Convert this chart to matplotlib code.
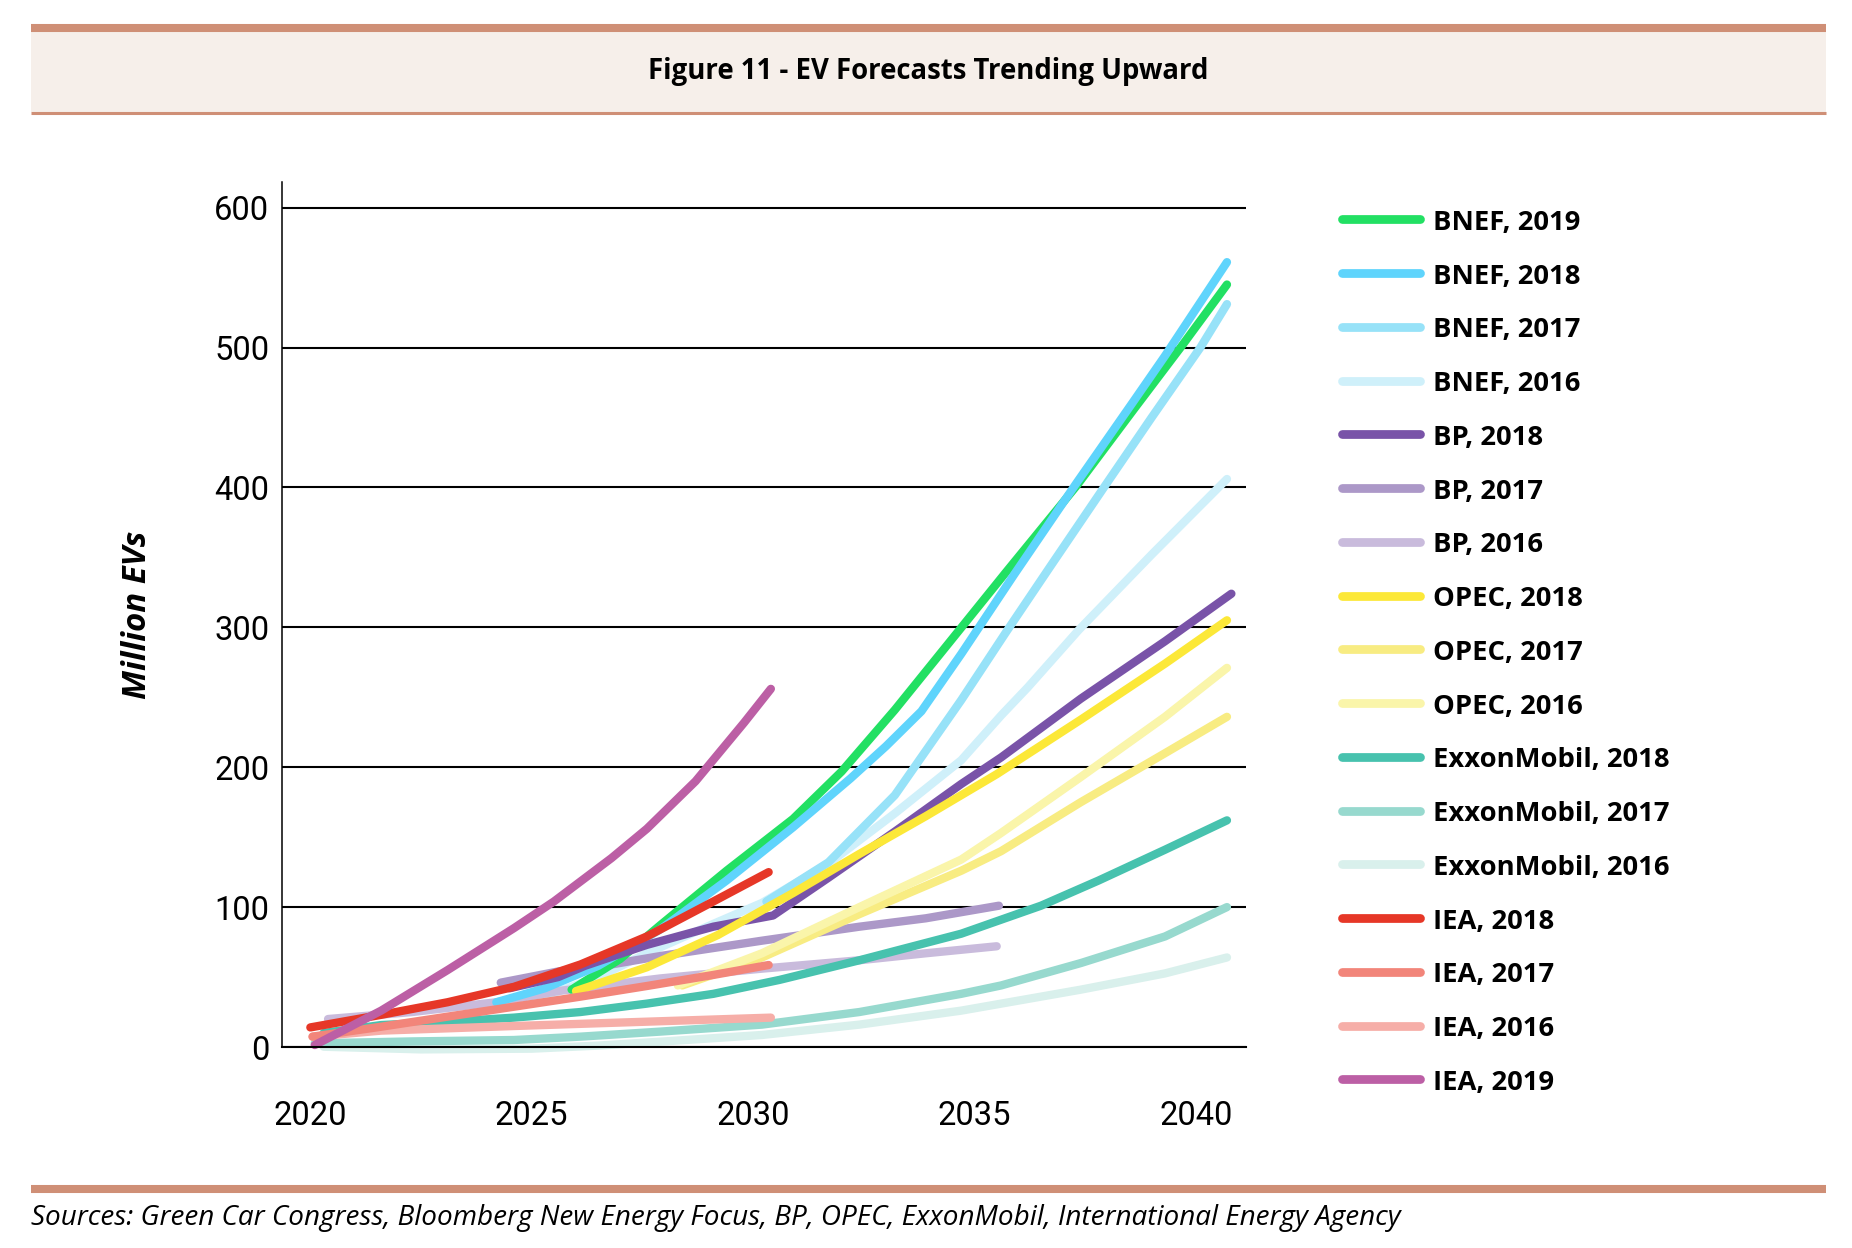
import matplotlib
matplotlib.use("Agg")
import matplotlib.pyplot as plt
from matplotlib.lines import Line2D
from matplotlib.patches import Rectangle

# -----------------------------
# Forecast data (million EVs)
# -----------------------------
bnef_2019_x = [2025.9, 2027.0, 2027.9, 2029.4, 2030.9, 2032.0, 2033.2, 2034.4, 2035.7, 2037.3, 2038.6, 2039.7, 2040.7]
bnef_2019_y = [41, 63, 87, 126, 163, 197, 241, 288, 339, 401, 456, 502, 545]

bnef_2018_x = [2024.2, 2025.3, 2026.5, 2027.9, 2029.4, 2030.9, 2032.2, 2033.0, 2033.8, 2034.7, 2035.9, 2037.3, 2038.6, 2039.3, 2040.7]
bnef_2018_y = [32, 42, 58, 84, 119, 157, 192, 215, 240, 281, 338, 403, 462, 494, 561]

bnef_2017_x = [2030.3, 2031.7, 2033.2, 2034.7, 2035.7, 2036.7, 2037.9, 2039.0, 2040.1, 2040.7]
bnef_2017_y = [104, 132, 180, 248, 296, 343, 399, 450, 500, 531]

bnef_2016_x = [2025.0, 2026.5, 2027.6, 2029.1, 2030.2, 2031.7, 2033.2, 2034.7, 2035.6, 2036.2, 2037.35, 2039.0, 2040.7]
bnef_2016_y = [33, 50, 67, 88, 103, 131, 167, 205, 237, 257, 298, 352, 406]

bp_2018_x = [2024.5, 2025.6, 2026.2, 2027.6, 2029.1, 2030.45, 2031.7, 2033.2, 2034.7, 2035.6, 2037.4, 2039.3, 2040.8]
bp_2018_y = [42, 50, 58, 73, 86, 94, 121, 154, 188, 207, 249, 290, 324]

bp_2017_x = [2024.3, 2025.6, 2026.8, 2027.9, 2030.2, 2032.4, 2033.9, 2035.55]
bp_2017_y = [46, 54, 59, 65, 76, 86, 92, 101]

bp_2016_x = [2020.4, 2022.3, 2024.2, 2025.6, 2027.9, 2030.2, 2032.4, 2033.9, 2035.5]
bp_2016_y = [20, 25, 32, 40, 49, 56, 62, 67, 72]

opec_2018_x = [2026.0, 2027.6, 2029.2, 2030.9, 2032.4, 2033.9, 2035.5, 2037.4, 2039.3, 2040.7]
opec_2018_y = [40, 57, 80, 110, 138, 165, 195, 234, 274, 305]

opec_2017_x = [2028.4, 2030.2, 2032.4, 2034.7, 2035.6, 2037.4, 2039.3, 2040.7]
opec_2017_y = [44, 64, 95, 126, 140, 175, 210, 236]

opec_2016_x = [2028.3, 2030.2, 2032.4, 2034.7, 2035.6, 2037.4, 2039.3, 2040.7]
opec_2016_y = [44, 67, 100, 134, 153, 193, 236, 271]

exxon_2018_x = [2020.3, 2021.6, 2023.1, 2024.6, 2026.1, 2027.6, 2029.1, 2030.6, 2032.4, 2034.7, 2035.6, 2036.5, 2037.8, 2039.3, 2040.7]
exxon_2018_y = [10, 15.7, 18, 21, 25, 31, 38, 48, 62, 81, 91, 101, 119, 141, 162]

exxon_2017_x = [2020.1, 2022.3, 2024.6, 2026.1, 2027.9, 2030.2, 2032.4, 2034.7, 2035.6, 2037.4, 2039.3, 2040.7]
exxon_2017_y = [2.6, 4, 5, 7.4, 11, 16, 25, 38, 44, 60, 79, 100]

exxon_2016_x = [2020.3, 2022.5, 2025.0, 2026.5, 2027.9, 2030.2, 2032.4, 2034.7, 2035.6, 2037.4, 2039.3, 2040.7]
exxon_2016_y = [0.2, -1.7, -1.2, 1.0, 3.8, 8.6, 16, 26, 31, 41, 52.6, 64]

iea_2018_x = [2020.0, 2021.6, 2023.1, 2024.6, 2026.1, 2027.6, 2029.1, 2030.35]
iea_2018_y = [14, 23, 32, 43, 59, 79, 104, 125]

iea_2017_x = [2020.05, 2021.6, 2023.1, 2024.6, 2026.1, 2027.6, 2029.1, 2030.35]
iea_2017_y = [7.4, 14.5, 21.7, 28.8, 36, 43.6, 51.5, 58.6]

iea_2016_x = [2020.05, 2021.6, 2024.6, 2027.6, 2030.4]
iea_2016_y = [7.4, 11.7, 15, 18.1, 21]

iea_2019_x = [2020.1, 2021.6, 2023.1, 2024.6, 2025.5, 2026.8, 2027.6, 2028.7, 2029.8, 2030.4]
iea_2019_y = [1.4, 26, 55, 85, 104, 135, 156, 190, 232, 256]

x_ticks = [2020, 2025, 2030, 2035, 2040]
y_ticks = [0, 100, 200, 300, 400, 500, 600]

# legend order (as shown on the right of the chart)
legend_names = ["BNEF, 2019", "BNEF, 2018", "BNEF, 2017", "BNEF, 2016",
                "BP, 2018", "BP, 2017", "BP, 2016",
                "OPEC, 2018", "OPEC, 2017", "OPEC, 2016",
                "ExxonMobil, 2018", "ExxonMobil, 2017", "ExxonMobil, 2016",
                "IEA, 2018", "IEA, 2017", "IEA, 2016", "IEA, 2019"]
legend_colors = ["#22E063", "#5FD4FC", "#97E2F8", "#CFF0FA",
                 "#7953A8", "#AC98C8", "#C9BBDC",
                 "#FCE838", "#F8EC82", "#FAF5AA",
                 "#47C2AE", "#97D9CE", "#D9F0EC",
                 "#E63727", "#F2857A", "#F6AEA8", "#BC5FA5"]

series = {
    "BNEF, 2019": (bnef_2019_x, bnef_2019_y),
    "BNEF, 2018": (bnef_2018_x, bnef_2018_y),
    "BNEF, 2017": (bnef_2017_x, bnef_2017_y),
    "BNEF, 2016": (bnef_2016_x, bnef_2016_y),
    "BP, 2018": (bp_2018_x, bp_2018_y),
    "BP, 2017": (bp_2017_x, bp_2017_y),
    "BP, 2016": (bp_2016_x, bp_2016_y),
    "OPEC, 2018": (opec_2018_x, opec_2018_y),
    "OPEC, 2017": (opec_2017_x, opec_2017_y),
    "OPEC, 2016": (opec_2016_x, opec_2016_y),
    "ExxonMobil, 2018": (exxon_2018_x, exxon_2018_y),
    "ExxonMobil, 2017": (exxon_2017_x, exxon_2017_y),
    "ExxonMobil, 2016": (exxon_2016_x, exxon_2016_y),
    "IEA, 2018": (iea_2018_x, iea_2018_y),
    "IEA, 2017": (iea_2017_x, iea_2017_y),
    "IEA, 2016": (iea_2016_x, iea_2016_y),
    "IEA, 2019": (iea_2019_x, iea_2019_y),
}
colors = dict(zip(legend_names, legend_colors))

# stacking order of the lines (bottom first)
draw_order = ["ExxonMobil, 2016", "ExxonMobil, 2017", "BNEF, 2016", "BP, 2016", "BP, 2017",
              "OPEC, 2017", "OPEC, 2016", "BNEF, 2019", "BNEF, 2018", "BNEF, 2017",
              "BP, 2018", "OPEC, 2018", "ExxonMobil, 2018", "IEA, 2016", "IEA, 2017",
              "IEA, 2018", "IEA, 2019"]

W, H = 1852, 1248
BAR = "#CF8F76"
BOLD = ["Open Sans", "DejaVu Sans"]
TICKF = ["Roboto", "DejaVu Sans"]

fig = plt.figure(figsize=(W / 100, H / 100), dpi=100)

# -----------------------------
# Header band + rules
# -----------------------------
fig.add_artist(Rectangle((31 / W, 1 - 112 / H), (1826 - 31) / W, (112 - 30) / H,
                         transform=fig.transFigure, facecolor="#F6EFEA", edgecolor="none"))
fig.add_artist(Line2D([31 / W, 1826 / W], [1 - 28 / H, 1 - 28 / H], transform=fig.transFigure,
                      color=BAR, lw=5.8, solid_capstyle="butt"))
fig.add_artist(Line2D([31 / W, 1826 / W], [1 - 112.5 / H, 1 - 112.5 / H], transform=fig.transFigure,
                      color=BAR, lw=2.2, solid_capstyle="butt"))
fig.add_artist(Line2D([31 / W, 1826 / W], [1 - 1189 / H, 1 - 1189 / H], transform=fig.transFigure,
                      color=BAR, lw=5.8, solid_capstyle="butt"))

fig.text(928 / W, 1 - 72 / H, "Figure 11 - EV Forecasts Trending Upward",
         ha="center", va="center", fontsize=19.8, fontweight="bold", family=BOLD)
fig.text(31 / W, 1 - 1225 / H,
         "Sources: Green Car Congress, Bloomberg New Energy Focus, BP, OPEC, ExxonMobil, International Energy Agency",
         ha="left", va="baseline", fontsize=20.1, fontstyle="italic", family=BOLD)

# -----------------------------
# Plot area
# -----------------------------
ax = fig.add_axes([282 / W, 1 - 1047 / H, (1246 - 282) / W, (1047 - 182) / H])
for name in draw_order:
    xs, ys = series[name]
    ax.plot(xs, ys, color=colors[name], lw=6.0, solid_capstyle="round",
            solid_joinstyle="round", clip_on=False)

ax.set_xlim(2019.36, 2041.13)
ax.set_ylim(0, 618.3)
ax.set_xticks(x_ticks)
ax.set_yticks(y_ticks)
ax.set_xticklabels([str(t) for t in x_ticks], family=TICKF, fontsize=23.5)
ax.set_yticklabels([str(t) for t in y_ticks], family=TICKF, fontsize=23.5)
ax.tick_params(axis="both", length=0, labelcolor="black")
ax.tick_params(axis="x", pad=38)
ax.tick_params(axis="y", pad=9)
ax.set_axisbelow(True)
ax.yaxis.grid(True, color="black", lw=1.5)
for side in ["top", "right"]:
    ax.spines[side].set_visible(False)
ax.spines["left"].set_linewidth(1.1)
ax.spines["bottom"].set_linewidth(1.5)

fig.text(138 / W, 1 - 615 / H, "Million EVs", rotation=90, ha="center", va="center",
         fontsize=23.8, fontweight="bold", fontstyle="italic", family=BOLD)

# -----------------------------
# Legend (drawn by hand to match spacing)
# -----------------------------
for i, (name, col) in enumerate(zip(legend_names, legend_colors)):
    yc = 219.3 + i * 53.76
    fig.add_artist(Line2D([1342 / W, 1420 / W], [1 - yc / H, 1 - yc / H], transform=fig.transFigure,
                          color=col, lw=6.3, solid_capstyle="round"))
    fig.text(1433 / W, 1 - (yc + 10.5) / H, name, ha="left", va="baseline",
             fontsize=19.7, fontweight="bold", family=BOLD)

fig.savefig("out.png", dpi=100)
